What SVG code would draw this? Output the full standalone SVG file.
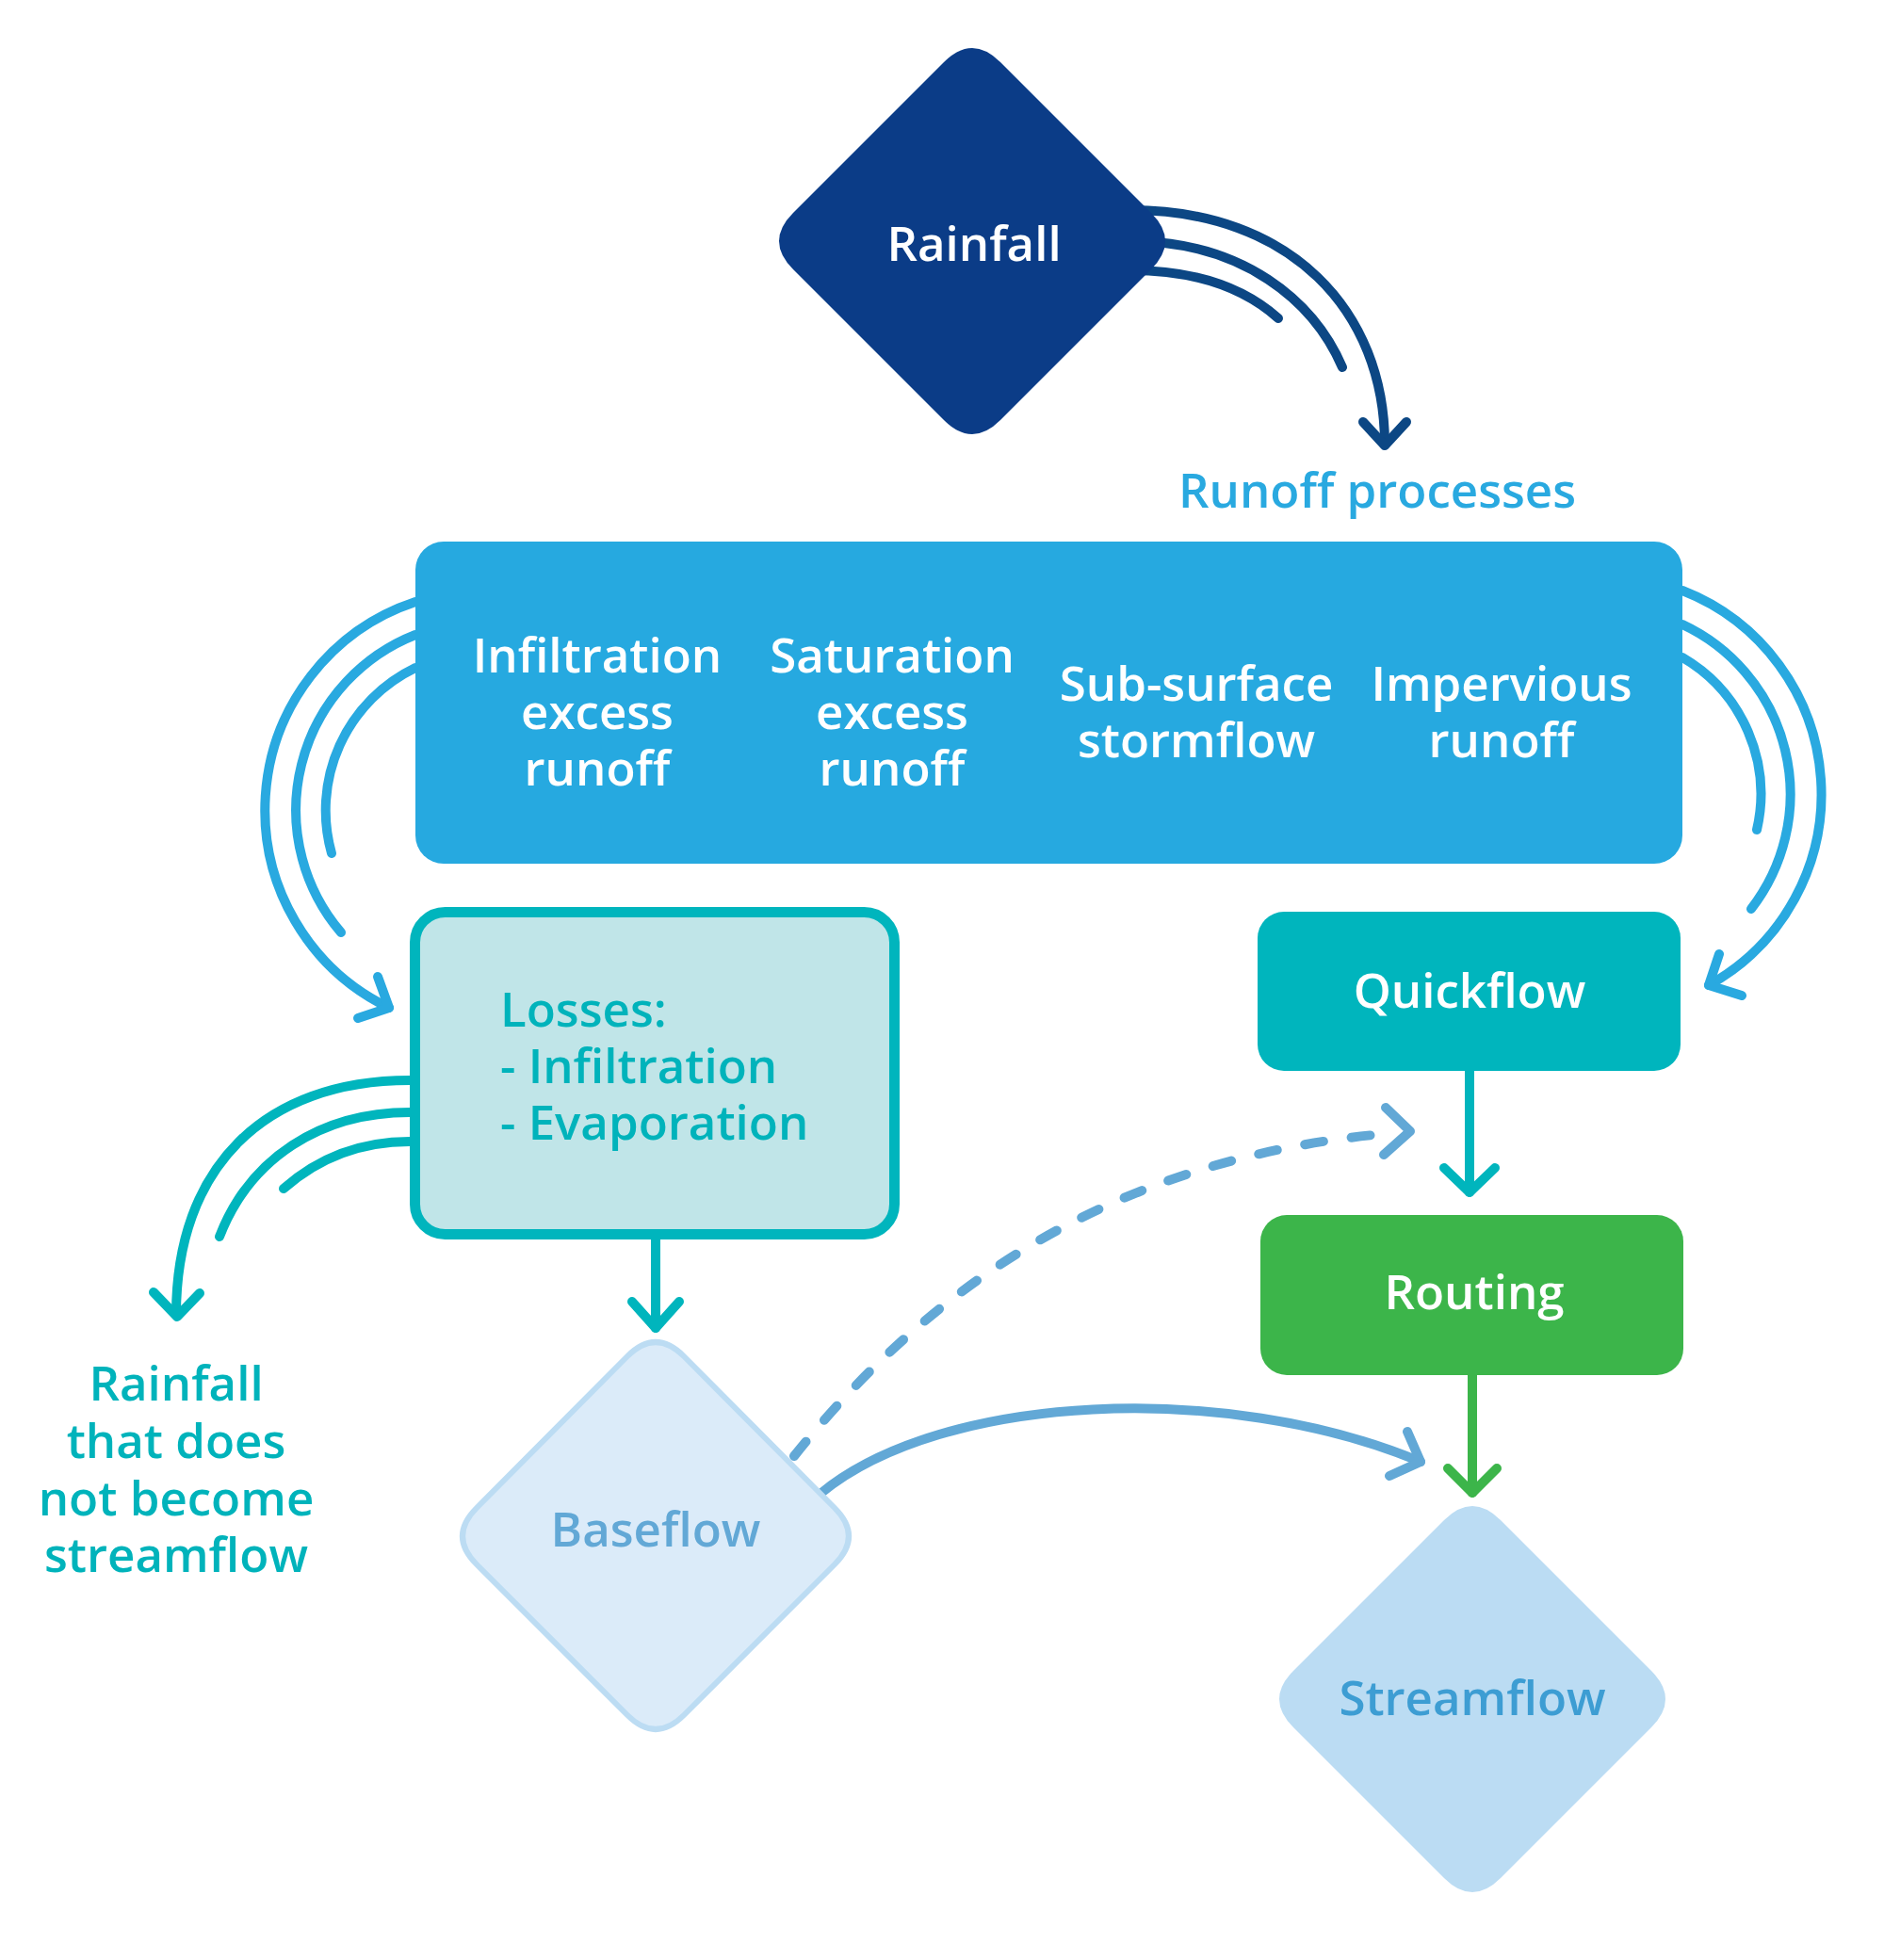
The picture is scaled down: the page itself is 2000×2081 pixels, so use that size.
<svg xmlns="http://www.w3.org/2000/svg" width="2000" height="2081" viewBox="0 0 2000 2081">
<style>
text{font-family:"Open Sans","Noto Sans","Liberation Sans",sans-serif;font-weight:600;font-size:51px;text-anchor:middle}
text.st{text-anchor:start}
.w{fill:#ffffff}
.teal{fill:#00b3bb}
.ln{fill:none;stroke-width:10;stroke-linecap:round;stroke-linejoin:round}
.navy{stroke:#0c4784}
.sky{stroke:#29a9e0}
.tl{stroke:#00b5bd}
.gr{stroke:#3cb54a}
.lb{stroke:#62a8d6}
</style>
<rect width="2000" height="2081" fill="#ffffff"/>
<g id="connectors">
  <path class="ln navy" d="M1200 223 C1370 223 1470 330 1470 472"/>
  <path class="ln navy" d="M1447 448 L1470 473 L1493 448"/>
  <path class="ln navy" d="M1200 256 C1320 256 1395 320 1425 390"/>
  <path class="ln navy" d="M1200 287 C1270 287 1320 305 1357 338"/>
  <path class="ln sky" d="M460 639 L441 639 A233 233 0 0 0 413 1070"/>
  <path class="ln sky" d="M401 1037 L413 1070 L380 1081"/>
  <path class="ln sky" d="M460 674 L441 674 A200 200 0 0 0 362 990"/>
  <path class="ln sky" d="M460 709 L441 709 A168 168 0 0 0 352 906"/>
  <path class="ln sky" d="M1770 627 L1786 627 A232 232 0 0 1 1814 1046"/>
  <path class="ln sky" d="M1825 1013 L1814 1046 L1849 1057"/>
  <path class="ln sky" d="M1770 663 L1786 663 A199 199 0 0 1 1859 965"/>
  <path class="ln sky" d="M1770 698 L1786 698 A168 168 0 0 1 1865 881"/>
  <path class="ln tl" d="M450 1147 L435 1147 C280 1147 187 1240 187 1396"/>
  <path class="ln tl" d="M163 1372 L188 1398 L212 1373"/>
  <path class="ln tl" d="M450 1181 L435 1181 C340 1181 265 1230 233 1313"/>
  <path class="ln tl" d="M450 1212 L435 1212 C380 1212 335 1232 301 1262"/>
  <path class="ln tl" d="M696 1316 L696 1410"/>
  <path class="ln tl" d="M671 1382 L696 1410 L721 1382"/>
  <path class="ln tl" d="M1560 1137 L1560 1266"/>
  <path class="ln tl" d="M1533 1240 L1560 1266 L1587 1240"/>
  <path class="ln gr" d="M1563 1460 L1563 1585"/>
  <path class="ln gr" d="M1537 1559 L1563 1585 L1589 1559"/>
  <path class="ln lb" stroke-dasharray="20 30" d="M843 1546 C960 1400 1150 1230 1480 1203"/>
  <path class="ln lb" d="M1471 1176 L1497 1201 L1469 1226"/>
  <path class="ln lb" d="M872 1585 C1000 1480 1300 1465 1508 1552"/>
  <path class="ln lb" d="M1494 1520 L1508 1552 L1475 1567"/>
</g>
<g id="rainfall">
  <path fill="#0b3c87" d="M1002 66 Q1032 36 1062 66 L1222 226 Q1252 256 1222 286 L1062 446 Q1032 476 1002 446 L842 286 Q812 256 842 226 Z"/>
  <text class="w" x="1034" y="277" font-size="55">Rainfall</text>
</g>
<g id="runoff-label">
  <text x="1462" y="539" fill="#29a9e0" font-size="49">Runoff processes</text>
</g>
<g id="runoff-processes">
  <rect x="441" y="575" width="1345" height="342" rx="30" fill="#26a9e0"/>
  <text class="w" x="634" y="714">Infiltration</text>
  <text class="w" x="634" y="774">excess</text>
  <text class="w" x="634" y="834">runoff</text>
  <text class="w" x="947" y="714">Saturation</text>
  <text class="w" x="947" y="774">excess</text>
  <text class="w" x="947" y="834">runoff</text>
  <text class="w" x="1270" y="744">Sub-surface</text>
  <text class="w" x="1270" y="804">stormflow</text>
  <text class="w" x="1594" y="744">Impervious</text>
  <text class="w" x="1594" y="804">runoff</text>
</g>
<g id="losses">
  <rect x="440.5" y="968.5" width="509" height="342" rx="32" fill="#c0e5e8" stroke="#00b5bd" stroke-width="11"/>
  <text class="teal st" x="531" y="1090">Losses:</text>
  <text class="teal st" x="531" y="1150">- Infiltration</text>
  <text class="teal st" x="531" y="1210">- Evaporation</text>
</g>
<g id="not-streamflow">
  <text class="teal" x="187" y="1487">Rainfall</text>
  <text class="teal" x="187" y="1548">that does</text>
  <text class="teal" x="187" y="1609">not become</text>
  <text class="teal" x="187" y="1669">streamflow</text>
</g>
<g id="quickflow">
  <rect x="1335" y="968" width="449" height="169" rx="28" fill="#00b5bd"/>
  <text class="w" x="1560" y="1070">Quickflow</text>
</g>
<g id="routing">
  <rect x="1338" y="1290" width="449" height="170" rx="28" fill="#3cb54a"/>
  <text class="w" x="1565" y="1390">Routing</text>
</g>
<g id="baseflow">
  <path fill="#dbebf9" stroke="#bcdcf3" stroke-width="6" d="M666 1440 Q696 1410 726 1440 L886 1601 Q916 1631 886 1661 L726 1821 Q696 1851 666 1821 L506 1661 Q476 1631 506 1601 Z"/>
  <text x="696" y="1642" fill="#62a8d6">Baseflow</text>
</g>
<g id="streamflow">
  <path fill="#bbdcf3" d="M1533 1614 Q1563 1584 1593 1614 L1753 1774 Q1783 1804 1753 1834 L1593 1994 Q1563 2024 1533 1994 L1373 1834 Q1343 1804 1373 1774 Z"/>
  <text x="1563" y="1821" fill="#3d9dd3">Streamflow</text>
</g>
</svg>
